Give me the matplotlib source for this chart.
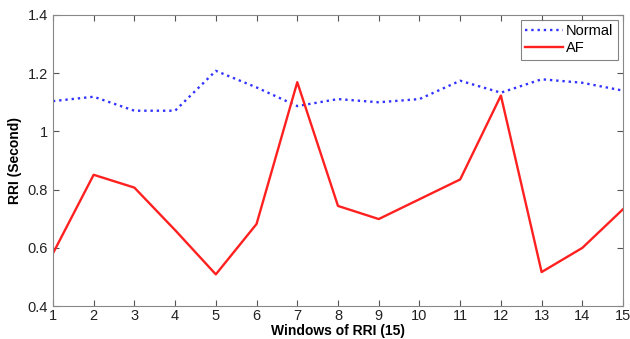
import numpy as np
import matplotlib.pyplot as plt

plt.rcParams['font.family'] = ['Liberation Sans', 'DejaVu Sans']

windows = np.arange(1, 16)
normal = [1.104, 1.119, 1.071, 1.071, 1.208, 1.151, 1.087, 1.111, 1.100,
          1.111, 1.174, 1.133, 1.179, 1.167, 1.140]
af = [0.581, 0.851, 0.807, 0.661, 0.509, 0.682, 1.169, 0.744, 0.699,
      0.767, 0.835, 1.123, 0.517, 0.600, 0.733]
yticks = [0.4, 0.6, 0.8, 1.0, 1.2, 1.4]
ytick_labels = ['0.4', '0.6', '0.8', '1', '1.2', '1.4']

fig = plt.figure(figsize=(6.3, 3.39), dpi=100)
ax = fig.add_axes([0.084, 0.097, 0.905, 0.859])

ax.plot(windows, normal, color='#3333ff', linestyle=':', linewidth=1.7, label='Normal')
ax.plot(windows, af, color='#ff2020', linestyle='-', linewidth=1.7, label='AF')

ax.set_xlim(1, 15)
ax.set_ylim(0.4, 1.4)
ax.set_xticks(windows)
ax.set_yticks(yticks)
ax.set_yticklabels(ytick_labels)
ax.tick_params(direction='in', length=4, color='#555555', labelsize=10.5,
               top=True, right=True, labelcolor='#222222')
ax.tick_params(axis='x', pad=2)
for s in ax.spines.values():
    s.set_color('#888888')
    s.set_linewidth(0.8)

ax.set_xlabel('Windows of RRI (15)', fontsize=10, fontweight='bold', labelpad=1)
ax.set_ylabel('RRI (Second)', fontsize=10, fontweight='bold', labelpad=4)

leg = ax.legend(loc='upper right', fontsize=10.5, frameon=True, fancybox=False,
                handlelength=2.6, handletextpad=0.2, borderpad=0.3,
                labelspacing=0.2, borderaxespad=0.35)
leg.get_frame().set_edgecolor('#666666')
leg.get_frame().set_linewidth(0.8)

fig.savefig('out.png', dpi=100)
